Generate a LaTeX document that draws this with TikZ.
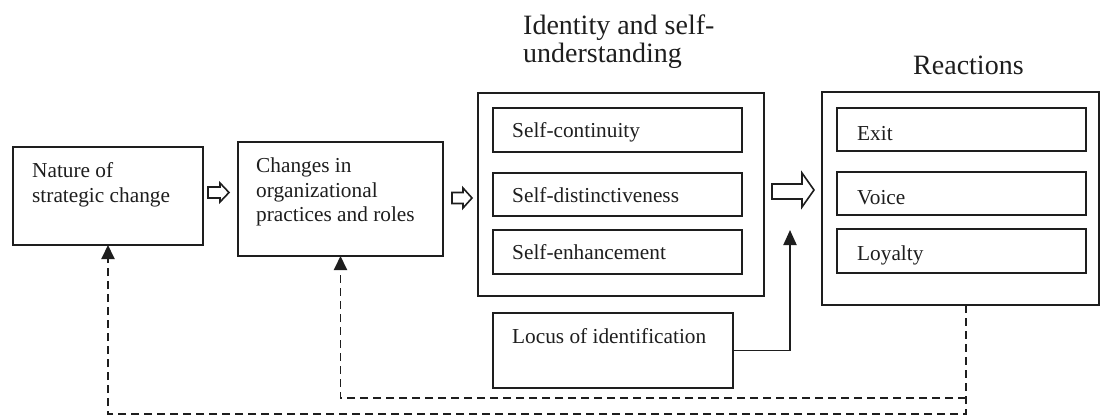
\documentclass[tikz,border=0pt]{standalone}
\usepackage{fontspec}
\setmainfont{Liberation Serif}
\usetikzlibrary{arrows.meta}
\definecolor{ink}{HTML}{1E1E1E}
\tikzset{
  box/.style={draw=ink, line width=1.9pt, anchor=north west, inner sep=0pt, outer sep=0pt},
  txt/.style={anchor=base west, inner sep=0pt, text=ink, font=\fontsize{21.3pt}{25pt}\selectfont},
  ttl/.style={anchor=base west, inner sep=0pt, text=ink, font=\fontsize{28pt}{28pt}\selectfont},
  fb/.style={draw=ink, line width=1.9pt, dash pattern=on 8pt off 5pt, -{Triangle[length=14pt,width=13pt]}},
  solid arr/.style={draw=ink, line width=1.9pt, -{Triangle[length=15pt,width=13pt]}},
  openarr/.style={draw=ink, line width=1.6pt, fill=white, line join=miter}
}
\begin{document}
\begin{tikzpicture}[x=1pt,y=-1pt]
\useasboundingbox[fill=white] (0,0) rectangle (1102,417);
% left boxes
\node[box, minimum width=190pt, minimum height=98pt] (nature) at (13,147) {};
\node[txt] (natureA) at (32,177) {Nature of};
\node[txt] (natureB) at (32,202) {strategic change};
\node[box, minimum width=205pt, minimum height=114pt] (changes) at (238,142) {};
\node[txt] (changesA) at (256,172) {Changes in};
\node[txt] (changesB) at (256,197) {organizational};
\node[txt] (changesC) at (256,221) {practices and roles};
% identity
\node[ttl] (idA) at (523,35) {Identity and self-};
\node[ttl] (idB) at (523,63) {understanding};
\node[box, minimum width=286pt, minimum height=203pt] (identity) at (478,93) {};
\node[box, minimum width=249pt, minimum height=44pt] (sc) at (493,108) {};
\node[txt] (scT) at (512,138) {Self-continuity};
\node[box, minimum width=249pt, minimum height=43pt] (sd) at (493,173) {};
\node[txt] (sdT) at (512,202) {Self-distinctiveness};
\node[box, minimum width=249pt, minimum height=44pt] (se) at (493,230) {};
\node[txt] (seT) at (512,259) {Self-enhancement};
% locus
\node[box, minimum width=240pt, minimum height=75pt] (locus) at (493,313) {};
\node[txt] (locusT) at (512,343) {Locus of identification};
% reactions
\node[ttl] (reT) at (913,75) {Reactions};
\node[box, minimum width=277pt, minimum height=213pt] (reactions) at (822,92) {};
\node[box, minimum width=249pt, minimum height=43pt] (exit) at (837,108) {};
\node[txt] (exitT) at (857,140) {Exit};
\node[box, minimum width=249pt, minimum height=43pt] (voice) at (837,172) {};
\node[txt] (voiceT) at (857,204) {Voice};
\node[box, minimum width=249pt, minimum height=44pt] (loyalty) at (837,229) {};
\node[txt] (loyaltyT) at (857,260) {Loyalty};
% open block arrows
\draw[openarr] (208,187) -- (220,187) -- (220,183) -- (229,192.5) -- (220,202) -- (220,198) -- (208,198) -- cycle;
\draw[openarr] (452,192.5) -- (463,192.5) -- (463,188) -- (472,198) -- (463,208) -- (463,203.5) -- (452,203.5) -- cycle;
\draw[openarr] (772,184) -- (802,184) -- (802,173) -- (814,190) -- (802,207) -- (802,199) -- (772,199) -- cycle;
% locus arrow
\coordinate (ltip) at (790,230);
\draw[solid arr] (locus.east) -| (ltip);
% feedback dashed
\coordinate (r1) at (966,414);
\coordinate (r2) at (966,398);
\draw[fb] (reactions.south -| r1) -- (r1) -| (nature.south);
\draw[fb] (r2) -| (changes.south);
\end{tikzpicture}
\end{document}
